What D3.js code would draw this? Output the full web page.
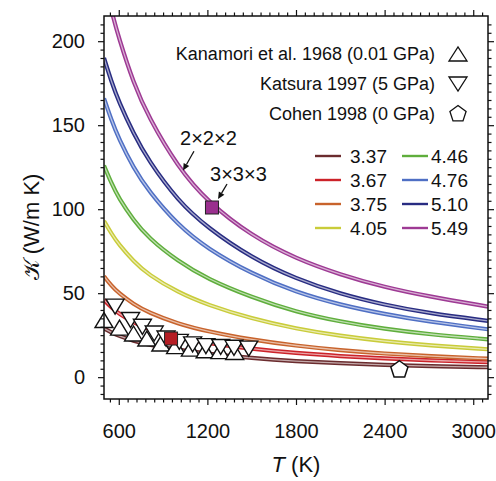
<!DOCTYPE html>
<html><head><meta charset="utf-8">
<script src="https://cdn.jsdelivr.net/npm/d3@7/dist/d3.min.js"></script>
<style>
html,body{margin:0;padding:0;background:#fff;}
svg text{font-family:"Liberation Sans",Arial,Helvetica,sans-serif;fill:#111;}
</style></head>
<body><svg id="c" width="496" height="481"></svg>
<script>
// ---- data ----
const temps = [500, 550, 600, 700, 800, 1000, 1200, 1500, 1800, 2100, 2400, 2700, 3100];
const k337 = [29, 26.6, 24.6, 21.6, 19.3, 16.2, 14, 11.3, 9.5, 8.3, 7.3, 6.6, 5.9];
const k367 = [46, 41.5, 37.8, 32.5, 28.6, 23.6, 20.3, 16.8, 14.3, 12.5, 11.1, 10, 8.9];
const k375 = [60, 54.5, 50, 43.5, 38.5, 31.8, 27.2, 22.3, 18.7, 16, 14, 12.5, 11];
const k405 = [93, 85.5, 79, 69, 61, 50.5, 43, 34.8, 28.8, 24.5, 21.3, 18.9, 16.6];
const k446 = [126, 115.5, 106.5, 93.5, 83, 69, 58.5, 47.5, 38.8, 33, 28.7, 25.5, 22.5];
const k476 = [166, 153, 142, 124.5, 111, 90.5, 76.5, 61.5, 50.5, 43, 37.5, 33, 28.5];
const k510 = [190, 176, 164, 145, 129, 105, 89, 71, 58.5, 49.5, 43, 38, 33.5];
const k549 = [238, 218, 202, 175, 155, 125, 104.5, 84, 70.5, 61, 53.5, 48, 42];
const seriesNames = ["3.37", "3.67", "3.75", "4.05", "4.46", "4.76", "5.10", "5.49"];
const seriesColors = ["#6b2c2e", "#cc2229", "#c8632c", "#c9cc3a", "#5fae3c", "#4f6fc4", "#282c82", "#9e3a94"];
const seriesValues = [k337, k367, k375, k405, k446, k476, k510, k549];

const kanamoriT = [500, 605, 700, 790, 885, 985, 1085, 1185, 1285, 1385];
const kanamoriK = [34, 29.5, 26, 23, 20, 18.5, 17, 16, 15.5, 15];
const katsuraT = [575, 680, 760, 840, 920, 1010, 1100, 1190, 1290, 1380, 1480];
const katsuraK = [42, 34, 30, 26, 23, 21, 19.5, 18.5, 18, 17.5, 17];
const cohenT = [2500];
const cohenK = [5];
const squaresT = [954, 1231];
const squaresK = [23, 101];
const squareColors = ["#b51d24", "#9a2f8e"];

const xTicks = [600, 1200, 1800, 2400, 3000];
const yTicks = [0, 50, 100, 150, 200];

// ---- layout ----
const svg = d3.select("#c");
const x = d3.scaleLinear().domain([500, 3100]).range([104, 488]);
const y = d3.scaleLinear().domain([-13, 215]).range([399, 16]);

svg.append("defs").append("clipPath").attr("id", "clip")
  .append("rect").attr("x", 104).attr("y", 16).attr("width", 384).attr("height", 383);

// curves
const line = d3.line().x(d => x(d[0])).y(d => y(d[1])).curve(d3.curveBasis);
const gc = svg.append("g").attr("clip-path", "url(#clip)");
seriesValues.forEach((vals, i) => {
  const pts = temps.map((t, j) => [t, vals[j]]);
  gc.append("path").attr("d", line(pts)).attr("fill", "none")
    .attr("stroke", seriesColors[i]).attr("stroke-width", 4.2);
  gc.append("path").attr("d", line(pts)).attr("fill", "none")
    .attr("stroke", "#fff").attr("stroke-opacity", 0.6).attr("stroke-width", 1.3);
});

// marker helpers
function triPath(cx, cy, up, w = 18, h = 15) {
  const s = up ? 1 : -1;
  return `M${cx - w / 2},${cy + s * h / 2}L${cx + w / 2},${cy + s * h / 2}L${cx},${cy - s * h / 2}Z`;
}
function pentPath(cx, cy, r = 9) {
  const p = d3.range(5).map(i => {
    const a = -Math.PI / 2 + i * 2 * Math.PI / 5;
    return [cx + r * Math.cos(a), cy + r * Math.sin(a) + 1];
  });
  return "M" + p.map(q => q.join(",")).join("L") + "Z";
}

const gm = svg.append("g");
kanamoriT.forEach((t, i) => {
  gm.append("path").attr("d", triPath(x(t), y(kanamoriK[i]), true))
    .attr("fill", "#fff").attr("stroke", "#111").attr("stroke-width", 1.4);
});
katsuraT.forEach((t, i) => {
  gm.append("path").attr("d", triPath(x(t), y(katsuraK[i]), false))
    .attr("fill", "#fff").attr("stroke", "#111").attr("stroke-width", 1.4);
});
cohenT.forEach((t, i) => {
  gm.append("path").attr("d", pentPath(x(t), y(cohenK[i])))
    .attr("fill", "#fff").attr("stroke", "#111").attr("stroke-width", 1.5);
});
squaresT.forEach((t, i) => {
  gm.append("rect").attr("x", x(t) - 6.5).attr("y", y(squaresK[i]) - 6.5)
    .attr("width", 13).attr("height", 13).attr("fill", squareColors[i])
    .attr("stroke", "#222").attr("stroke-width", 1);
});

// axes
const fmt = d3.format("d");
const minorX = d3.range(540, 3100, 60).filter(v => v % 600 !== 0);
const minorY = d3.range(-10, 215, 5).filter(v => v % 50 !== 0);
function styleAxis(g) {
  g.select(".domain").remove();
  g.selectAll("line").attr("stroke", "#111").attr("stroke-width", 1.2);
}
svg.append("g").attr("transform", "translate(0,399)")
  .call(d3.axisBottom(x).tickValues(xTicks).tickFormat(fmt).tickSize(6).tickPadding(19))
  .call(styleAxis).selectAll("text").attr("font-size", 20).attr("font-family", "Liberation Sans, Arial, sans-serif").attr("fill", "#111");
svg.append("g").attr("transform", "translate(0,399)")
  .call(d3.axisBottom(x).tickValues(minorX).tickFormat("").tickSize(3.5)).call(styleAxis);
svg.append("g").attr("transform", "translate(0,16)")
  .call(d3.axisTop(x).tickValues(xTicks).tickFormat("").tickSize(6)).call(styleAxis);
svg.append("g").attr("transform", "translate(0,16)")
  .call(d3.axisTop(x).tickValues(minorX).tickFormat("").tickSize(3.5)).call(styleAxis);
svg.append("g").attr("transform", "translate(104,0)")
  .call(d3.axisLeft(y).tickValues(yTicks).tickFormat(fmt).tickSize(6).tickPadding(13))
  .call(styleAxis).selectAll("text").attr("font-size", 20).attr("font-family", "Liberation Sans, Arial, sans-serif").attr("fill", "#111");
svg.append("g").attr("transform", "translate(104,0)")
  .call(d3.axisLeft(y).tickValues(minorY).tickFormat("").tickSize(3.5)).call(styleAxis);
svg.append("g").attr("transform", "translate(488,0)")
  .call(d3.axisRight(y).tickValues(yTicks).tickFormat("").tickSize(6)).call(styleAxis);
svg.append("g").attr("transform", "translate(488,0)")
  .call(d3.axisRight(y).tickValues(minorY).tickFormat("").tickSize(3.5)).call(styleAxis);

svg.append("rect").attr("x", 104).attr("y", 16).attr("width", 384).attr("height", 383)
  .attr("fill", "none").attr("stroke", "#111").attr("stroke-width", 1.5);

// axis titles
const xt = svg.append("text").attr("x", 296).attr("y", 472).attr("text-anchor", "middle").attr("font-size", 22);
xt.append("tspan").attr("font-style", "italic").text("T");
xt.append("tspan").text(" (K)");
const yt = svg.append("text").attr("transform", "translate(39,227) rotate(-90)")
  .attr("text-anchor", "middle").attr("font-size", 22);
yt.append("tspan").attr("font-family", "DejaVu Sans, Noto Sans, sans-serif").text("𝒦");
yt.append("tspan").text(" (W/m K)");

// data-source legend
const srcLabels = ["Kanamori et al. 1968 (0.01 GPa)", "Katsura 1997 (5 GPa)", "Cohen 1998 (0 GPa)"];
srcLabels.forEach((s, i) => {
  const by = 60 + i * 30;
  svg.append("text").attr("x", 435).attr("y", by).attr("text-anchor", "end").attr("font-size", 18).text(s);
  let d;
  if (i === 0) d = triPath(458, by - 6, true, 18, 14);
  else if (i === 1) d = triPath(458, by - 6, false, 18, 14);
  else d = pentPath(458, by - 7, 8.5);
  svg.append("path").attr("d", d).attr("fill", "#fff").attr("stroke", "#111").attr("stroke-width", 1.3);
});

// lattice legend
seriesNames.forEach((n, i) => {
  const col = Math.floor(i / 4), row = i % 4;
  const lx = col === 0 ? 315 : 402, tx = col === 0 ? 350 : 431;
  const by = 163 + row * 24;
  svg.append("line").attr("x1", lx).attr("x2", lx + 26).attr("y1", by - 7).attr("y2", by - 7)
    .attr("stroke", seriesColors[i]).attr("stroke-width", 2.4);
  svg.append("text").attr("x", tx).attr("y", by).attr("font-size", 19).text(n);
});

// annotations
function arrow(t0, k0, t1, k1) {
  const x0 = x(t0), y0 = y(k0), x1 = x(t1), y1 = y(k1);
  const a = Math.atan2(y1 - y0, x1 - x0), L = 7, W = 3.2;
  const bx = x1 - L * Math.cos(a), by = y1 - L * Math.sin(a);
  svg.append("line").attr("x1", x0).attr("y1", y0).attr("x2", bx).attr("y2", by)
    .attr("stroke", "#111").attr("stroke-width", 1.3);
  svg.append("path").attr("d", `M${x1},${y1}L${bx + W * Math.sin(a)},${by - W * Math.cos(a)}L${bx - W * Math.sin(a)},${by + W * Math.cos(a)}Z`)
    .attr("fill", "#111");
}
svg.append("text").attr("x", x(1015)).attr("y", y(138)).attr("font-size", 20).text("2×2×2");
arrow(1109, 134.5, 1035, 123);
svg.append("text").attr("x", x(1218)).attr("y", y(117)).attr("font-size", 20).text("3×3×3");
arrow(1333, 115, 1272, 106);
</script></body></html>
